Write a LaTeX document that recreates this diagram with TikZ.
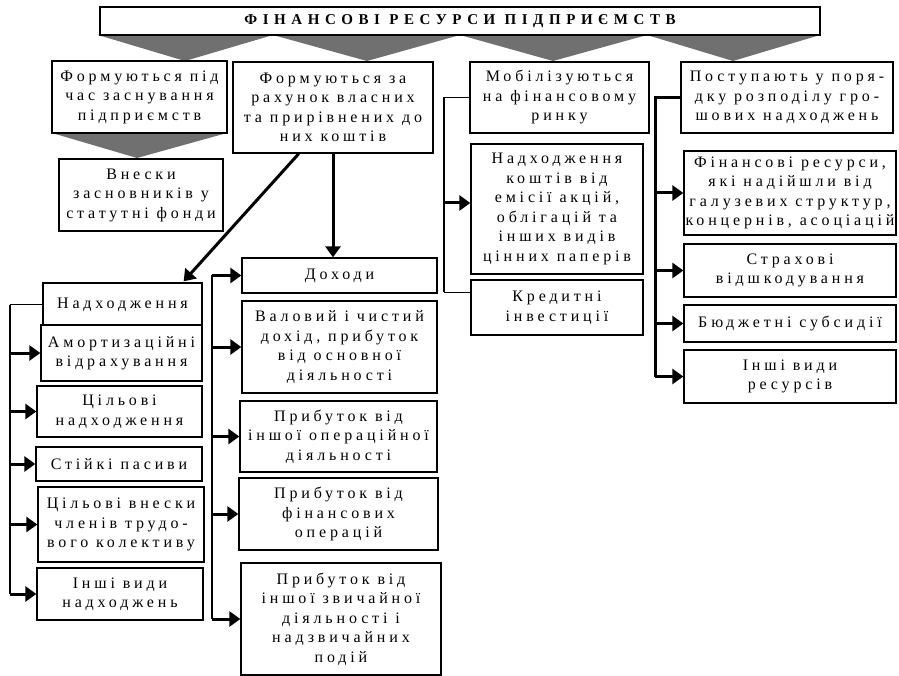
\documentclass[tikz,border=0pt]{standalone}
\usepackage{fontspec}
\setmainfont{Liberation Serif}
\newfontfamily\boxfont[LetterSpace=24]{Liberation Serif}
\newfontfamily\titlefont[LetterSpace=37]{Liberation Serif}
\usetikzlibrary{arrows.meta,calc}
\begin{document}
\begin{tikzpicture}[x=1pt,y=-1pt,
  box/.style={draw,line width=1.3pt,fill=white,inner sep=0pt,align=center,
    font=\boxfont\fontsize{16}{19.5}\selectfont},
  bx/.style 2 args={box,minimum width=#1pt,minimum height=#2pt},
  funnel/.style={fill=black!56},
  arr/.style={line width=3pt,-{Triangle[length=11pt,width=15pt]}},
  lnthin/.style={line width=1pt},
  lnmid/.style={line width=1.8pt},
  lnthick/.style={line width=3pt,line join=miter}]
\useasboundingbox (0,0) rectangle (899,676);

% grey funnels
\fill[funnel] (98,35) -- (273,35) -- (185,61) -- cycle;
\fill[funnel] (273,35) -- (460,35) -- (367,61) -- cycle;
\fill[funnel] (460,35) -- (647,35) -- (553,61) -- cycle;
\fill[funnel] (647,35) -- (820,35) -- (733,61) -- cycle;
\fill[funnel] (52,133) -- (227,133) -- (137,158) -- cycle;

% title
\node[bx={720}{28},font=\titlefont\bfseries\fontsize{15}{16}\selectfont] (T) at (460,21)
  {ФІНАНСОВІ РЕСУРСИ ПІДПРИЄМСТВ};

% first level
\node[bx={175}{72}] (B1) at (139.5,97) {Формуються під\\час заснування\\підприємств};
\node[bx={164}{72}] (B1a) at (141,195) {Внески\\засновників у\\статутні фонди};
\node[bx={200}{91}] (B2) at (333,107.5) {Формуються за\\рахунок власних\\та прирівнених до\\них коштів};
\node[bx={179}{71}] (B3) at (559.5,97.5) {Мобілізуються\\на фінансовому\\ринку};
\node[bx={212}{71}] (B4) at (787,97.5) {Поступають у поря-\\дку розподілу гро-\\шових надходжень};

% B3 children
\node[bx={172}{130}] (N1) at (557,209) {Надходження\\коштів від\\емісії акцій,\\облігацій та\\інших видів\\цінних паперів};
\node[bx={172}{55}] (N2) at (557,307.5) {Кредитні\\інвестиції};

% B4 children
\node[bx={212}{84}] (R1) at (790,193) {Фінансові ресурси,\\які надійшли від\\галузевих структур,\\концернів, асоціацій};
\node[bx={212}{53}] (R2) at (790,270.5) {Страхові\\відшкодування};
\node[bx={212}{37}] (R3) at (790,323.5) {Бюджетні субсидії};
\node[bx={212}{53}] (R4) at (790,376.5) {Інші види\\ресурсів};

% left column
\node[bx={159}{43}] (L0) at (122.5,304.5) {Надходження};
\node[bx={161}{56}] (L1) at (121.5,353) {Амортизаційні\\відрахування};
\node[bx={165}{51}] (L2) at (119.5,411.5) {Цільові\\надходження};
\node[bx={166}{34}] (L3) at (119,464) {Стійкі пасиви};
\node[bx={166}{75}] (L4) at (121,524.5) {Цільові внески\\членів трудо-\\вого колективу};
\node[bx={166}{52}] (L5) at (120,594) {Інші види\\надходжень};

% middle column
\node[bx={195}{35}] (M0) at (339.5,275.5) {Доходи};
\node[bx={195}{92}] (M1) at (339.5,347) {Валовий і чистий\\дохід, прибуток\\від основної\\діяльності};
\node[bx={197}{71}] (M2) at (338.5,436.5) {Прибуток від\\іншої операційної\\діяльності};
\node[bx={199}{72}] (M3) at (338.5,514) {Прибуток від\\фінансових\\операцій};
\node[bx={200}{112}] (M4) at (341,619) {Прибуток від\\іншої звичайної\\діяльності і\\надзвичайних\\подій};

% connectors from B2
\coordinate (b2d) at ($(B2.south west)!0.33!(B2.south east)$);
\coordinate (l0t) at ($(L0.north east)+(-19,-1)$);
\draw[arr] (b2d) -- (l0t);
\draw[arr] (B2.south) -- (M0.north -| B2.south);

% left bracket
\coordinate (lb) at (10,302);
\draw[lnthin] (L0.west) -- (L0.west -| lb);
\draw[lnmid] (L0.west -| lb) -- (L5.west -| lb);
\foreach \n in {L1,L2,L3,L4,L5} \draw[arr] (\n.west -| lb) -- (\n.west);

% middle bracket
\coordinate (mb) at (212,0);
\draw[lnmid] (M0.west -| mb) -- (M4.west -| mb);
\foreach \n in {M0,M1,M2,M3,M4} \draw[arr] (\n.west -| mb) -- (\n.west);

% B3 bracket
\coordinate (b3b) at (444,0);
\coordinate (n2s) at ($(N2.north west)+(0,13)$);
\coordinate (n1a) at ($(N1.west)+(0,-6)$);
\draw[lnthin] (B3.west) -- (B3.west -| b3b);
\draw[lnmid] (B3.west -| b3b) -- (n2s -| b3b);
\draw[lnthin] (n2s -| b3b) -- (n2s);
\draw[arr] (n1a -| b3b) -- (n1a);

% B4 bracket
\coordinate (b4b) at (655,0);
\draw[lnthick] (B4.west) -- (B4.west -| b4b) -- (R4.west -| b4b);
\foreach \n in {R1,R2,R3,R4} \draw[arr] (\n.west -| b4b) -- (\n.west);
\end{tikzpicture}
\end{document}
